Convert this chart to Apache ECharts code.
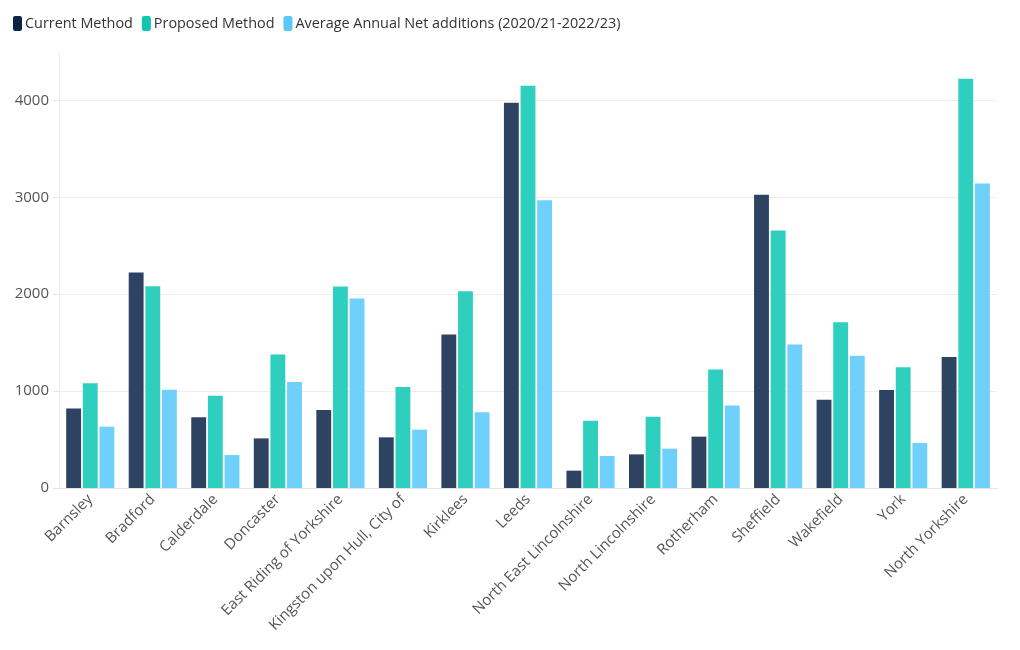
<!DOCTYPE html>
<html>
<head>
<meta charset="utf-8">
<script src="https://cdn.jsdelivr.net/npm/echarts@6/dist/echarts.min.js"></script>
<style>html,body{margin:0;padding:0;background:#fff}#c{width:1020px;height:650px}</style>
</head>
<body>
<div id="c"></div>
<script>
const categories = ["Barnsley","Bradford","Calderdale","Doncaster","East Riding of Yorkshire","Kingston upon Hull, City of","Kirklees","Leeds","North East Lincolnshire","North Lincolnshire","Rotherham","Sheffield","Wakefield","York","North Yorkshire"];
const currentMethod = [820,2225,730,512,805,523,1583,3976,179,347,530,3026,912,1012,1353];
const proposedMethod = [1080,2081,953,1377,2080,1043,2031,4152,695,736,1223,2657,1710,1246,4224];
const avgNetAdditions = [633,1015,341,1095,1955,602,781,2970,330,406,851,1480,1366,465,3143];
const seriesNames = ["Current Method","Proposed Method","Average Annual Net additions (2020/21-2022/23)"];
const yTicks = {min:0, max:4500, interval:1000};

const colors = ["#2e4361","#2fcfbf","#6fd1fb"];
const legendColors = ["#0d2346","#10c6b0","#5ac8fa"];
const font = "'Open Sans', 'Noto Sans', sans-serif";
const chart = echarts.init(document.getElementById('c'));
const datas = [currentMethod, proposedMethod, avgNetAdditions];
chart.setOption({
  animation:false,
  textStyle:{fontFamily:font},
  legend:{
    left:8, top:11, itemGap:9, itemWidth:9, itemHeight:15,
    icon:'roundRect',
    textStyle:{fontSize:14.4, color:'#333', fontFamily:font, padding:[0,0,0,-2]},
    data: seriesNames.map((n,i)=>({name:n, itemStyle:{color:legendColors[i]}}))
  },
  grid:{left:59, right:23, top:52, bottom:162, containLabel:false},
  xAxis:{
    type:'category', data:categories,
    axisLine:{lineStyle:{color:'#e3e3e3'}},
    axisTick:{alignWithLabel:true, length:5, lineStyle:{color:'#e3e3e3'}},
    axisLabel:{rotate:45, interval:0, fontSize:15, color:'#555', fontFamily:font, margin:9}
  },
  yAxis:{
    type:'value', min:yTicks.min, max:yTicks.max, interval:yTicks.interval,
    axisLine:{show:true, lineStyle:{color:'#eeeeee'}},
    axisTick:{show:true, length:6, lineStyle:{color:'#e6e6e6'}},
    axisLabel:{fontSize:15, color:'#555', fontFamily:font, margin:10, showMaxLabel:false,
      formatter: v => v>4000 ? '' : String(v)},
    splitLine:{show:true, showMaxLine:false, lineStyle:{color:'#eeeeee'}}
  },
  series: datas.map((d,i)=>({
    name:seriesNames[i], type:'bar', data:d,
    barGap:'12%', barCategoryGap:'23%',
    itemStyle:{color:colors[i]}
  }))
});
</script>
</body>
</html>
